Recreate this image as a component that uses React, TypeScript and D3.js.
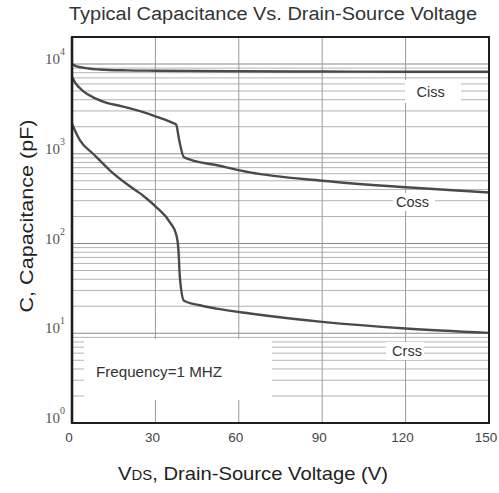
import { scaleLinear, scaleLog, line as d3Line, curveMonotoneX, range } from "d3";

// Ciss
const cissV = [0, 1, 3, 6, 10, 20, 30, 60, 90, 120, 150];
const cissC = [10000, 9600, 9200, 8900, 8700, 8500, 8420, 8300, 8250, 8200, 8200];

// Coss
const cossV = [0, 1, 4, 8, 12.5, 18, 24.5, 30.5, 36, 37.5, 38.5, 40.3, 53, 64, 90, 120, 150];
const cossC = [7200, 6300, 5000, 4200, 3700, 3380, 2980, 2580, 2220, 2100, 1450, 910, 735, 620, 500, 423, 370];

// Crss
const crssV = [0, 3, 7.6, 13.7, 19.7, 25.6, 30.4, 35.3, 37.5, 38.3, 38.8, 40.3, 46, 52, 64, 90, 120, 150];
const crssC = [2150, 1390, 1000, 650, 460, 341, 253, 171, 125, 84, 42, 23, 20.5, 18.8, 16.6, 13.4, 11.3, 10.1];

const xTicks = [0, 30, 60, 90, 120, 150];
const yDecades = [0, 1, 2, 3, 4];

const seriesLabels = [
  { name: "Ciss", v: 129, c: 4290 },
  { name: "Coss", v: 122.5, c: 257 },
  { name: "Crss", v: 120.5, c: 5.65 },
];

type Pt = [number, number];

export default function App() {
  const left = 72;
  const right = 489;
  const top = 37;
  const bottom = 423;

  const x = scaleLinear().domain([0, 150]).range([left, right]);
  const y = scaleLog().domain([1, 20000]).range([bottom, top]);

  const lineGen = d3Line<Pt>()
    .x((d) => x(d[0]))
    .y((d) => y(d[1]))
    .curve(curveMonotoneX);

  const zip = (vs: number[], cs: number[]): Pt[] => vs.map((v, i) => [v, cs[i]]);
  const curves = [zip(cissV, cissC), zip(cossV, cossC), zip(crssV, crssC)];

  const minor: number[] = [];
  yDecades.slice(0, 4).forEach((k) => {
    range(2, 10).forEach((m) => minor.push(m * Math.pow(10, k)));
  });
  const major = [10, 100, 1000, 10000];

  const font = "Arial, 'Liberation Sans', sans-serif";
  const serif = "'Times New Roman', 'Liberation Serif', serif";

  return (
    <svg
      width={499}
      height={493}
      style={{ position: "absolute", left: 0, top: 0, background: "#fff" }}
    >
      <rect x={0} y={0} width={499} height={493} fill="#fff" />

      {/* grid */}
      {minor.map((c, i) => (
        <line key={`mn-${i}`} x1={left} x2={right} y1={y(c)} y2={y(c)} stroke="#b4b4b4" strokeWidth={1} />
      ))}
      {major.map((c, i) => (
        <line key={`mj-${i}`} x1={left} x2={right} y1={y(c)} y2={y(c)} stroke="#8a8a8a" strokeWidth={1.2} />
      ))}
      {xTicks.slice(1, -1).map((t, i) => (
        <line key={`vx-${i}`} x1={x(t)} x2={x(t)} y1={top} y2={bottom} stroke="#9a9a9a" strokeWidth={1} />
      ))}

      {/* white boxes behind annotations */}
      <rect x={84} y={339} width={188} height={61} fill="#fff" />
      <rect x={405} y={80} width={56} height={23} fill="#fff" />
      <rect x={393} y={193} width={42} height={18} fill="#fff" />
      <rect x={386} y={342} width={38} height={18} fill="#fff" />

      {/* curves */}
      {curves.map((c, i) => (
        <path key={`curve-${i}`} d={lineGen(c) ?? ""} fill="none" stroke="#4a4a4a" strokeWidth={2.4} />
      ))}

      {/* frame */}
      <rect x={left} y={top} width={right - left} height={bottom - top} fill="none" stroke="#1e1e1e" strokeWidth={2} />
      <line x1={left} x2={left} y1={top} y2={bottom} stroke="#1e1e1e" strokeWidth={2.6} />

      {/* y tick labels */}
      {yDecades.map((k) => (
        <text key={`yl-${k}`} x={left - 12} y={y(Math.pow(10, k))} textAnchor="end" fontFamily={serif} fontSize={15} fill="#555">
          10
        </text>
      ))}
      {yDecades.map((k) => (
        <text key={`ys-${k}`} x={left - 12} y={y(Math.pow(10, k)) - 9} fontFamily={serif} fontSize={10} fill="#555">
          {k}
        </text>
      ))}

      {/* x tick labels */}
      {xTicks.map((t) => (
        <text key={`xl-${t}`} x={x(t) - 3} y={442} textAnchor="middle" fontFamily={font} fontSize={13.5} fill="#444">
          {t}
        </text>
      ))}

      {/* series labels */}
      {seriesLabels.map((s) => (
        <text key={s.name} x={x(s.v)} y={y(s.c)} textAnchor="middle" fontFamily={font} fontSize={14.5} fill="#333">
          {s.name}
        </text>
      ))}

      <text x={96} y={377} fontFamily={font} fontSize={14.5} fill="#333" textLength={126} lengthAdjust="spacingAndGlyphs">
        Frequency=1 MHZ
      </text>

      {/* titles */}
      <text x={273} y={20} textAnchor="middle" fontFamily={font} fontSize={18} fill="#333" textLength={408} lengthAdjust="spacingAndGlyphs">
        Typical Capacitance Vs. Drain-Source Voltage
      </text>
      <text x={253} y={480} textAnchor="middle" fontFamily={font} fontSize={19} fill="#222" textLength={270} lengthAdjust="spacingAndGlyphs">
        V<tspan fontSize={14}>DS</tspan>, Drain-Source Voltage (V)
      </text>
      <text
        transform={`translate(33,216) rotate(-90)`}
        textAnchor="middle"
        fontFamily={font}
        fontSize={18.5}
        fill="#222"
        textLength={193}
        lengthAdjust="spacingAndGlyphs"
      >
        C, Capacitance (pF)
      </text>
    </svg>
  );
}
